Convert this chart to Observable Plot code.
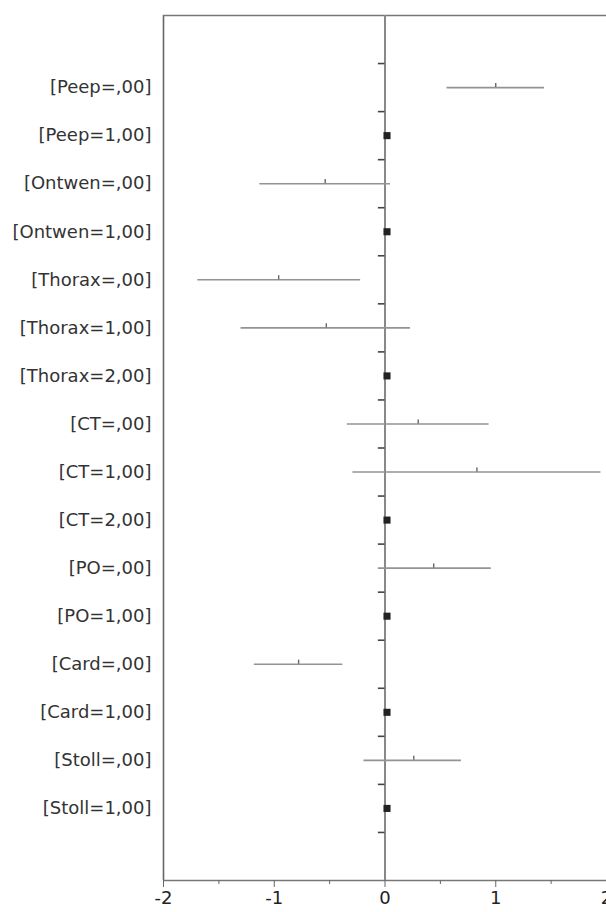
<!DOCTYPE html>
<html>
<head>
<meta charset="utf-8">
<script src="https://cdn.jsdelivr.net/npm/d3@7"></script>
<script src="https://cdn.jsdelivr.net/npm/@observablehq/plot@0.6"></script>
<style>
  html, body { margin: 0; padding: 0; background: #fff; }
  #chart svg { display: block; }
</style>
</head>
<body>
<div id="chart"></div>
<script>
const categories = ["[Peep=,00]","[Peep=1,00]","[Ontwen=,00]","[Ontwen=1,00]","[Thorax=,00]","[Thorax=1,00]","[Thorax=2,00]","[CT=,00]","[CT=1,00]","[CT=2,00]","[PO=,00]","[PO=1,00]","[Card=,00]","[Card=1,00]","[Stoll=,00]","[Stoll=1,00]"];
const estimate = [1.00, 0, -0.54, 0, -0.96, -0.53, 0, 0.30, 0.83, 0, 0.44, 0, -0.78, 0, 0.26, 0];
const lower    = [0.56, null, -1.13, null, -1.69, -1.30, null, -0.34, -0.29, null, -0.06, null, -1.18, null, -0.19, null];
const upper    = [1.44, null, 0.05, null, -0.22, 0.23, null, 0.94, 1.95, null, 0.96, null, -0.38, null, 0.69, null];
const xMajorTicks = [-2, -1, 0, 1, 2];
const xMinorTicks = [-1.5, -0.5, 0.5, 1.5];

const rows = categories.map((c, i) => ({i, label: c, est: estimate[i], lo: lower[i], hi: upper[i]}));
const ciRows = rows.filter(d => d.lo != null);
const refRows = rows.filter(d => d.lo == null);
const boundaries = d3.range(categories.length + 1).map(k => k - 0.5);
const yDomain = [-1.5, categories.length + 0.5];
const xDomain = [xMajorTicks[0], xMajorTicks[xMajorTicks.length - 1]];

const chart = Plot.plot({
  width: 606,
  height: 912,
  marginTop: 15,
  marginBottom: 32,
  marginLeft: 163,
  marginRight: 0,
  style: {fontFamily: "'DejaVu Sans', sans-serif", fontSize: "18px", color: "#222", background: "#fff"},
  x: {domain: xDomain, label: null},
  y: {domain: yDomain, reverse: true, label: null},
  marks: [
    // frame: left, top, bottom
    Plot.ruleX([xDomain[0]], {stroke: "#666", strokeWidth: 1.6}),
    Plot.ruleY([yDomain[0]], {stroke: "#777", strokeWidth: 1.6}),
    Plot.ruleY([yDomain[1]], {stroke: "#777", strokeWidth: 1.6}),
    // zero reference line
    Plot.ruleX([0], {stroke: "#888", strokeWidth: 2}),
    // category boundary ticks on the zero line
    Plot.ruleY(boundaries, {x1: -0.06, x2: 0, stroke: "#444", strokeWidth: 1.6}),
    // confidence intervals
    Plot.ruleY(ciRows, {y: "i", x1: "lo", x2: "hi", stroke: "#939393", strokeWidth: 1.6}),
    // point-estimate marks
    Plot.ruleX(ciRows, {x: "est", y1: "i", y2: d => d.i - 0.085, stroke: "#666", strokeWidth: 1.4}),
    // reference categories
    Plot.dot(refRows, {x: "est", y: "i", symbol: "square", r: 4, fill: "#222", dx: 2}),
    // axes
    Plot.axisY({ticks: rows.map(d => d.i), tickFormat: i => categories[i], tickSize: 0, tickPadding: 12, fill: "#333", fontSize: 18, label: null}),
    Plot.axisX({ticks: xMajorTicks, tickFormat: d => String(d), tickSize: 7, tickPadding: 4, stroke: "#666", fill: "#222", fontSize: 18, label: null}),
    Plot.axisX({ticks: xMinorTicks, tickSize: 4, tickFormat: () => "", stroke: "#666", label: null})
  ]
});
document.getElementById("chart").appendChild(chart);
</script>
</body>
</html>
